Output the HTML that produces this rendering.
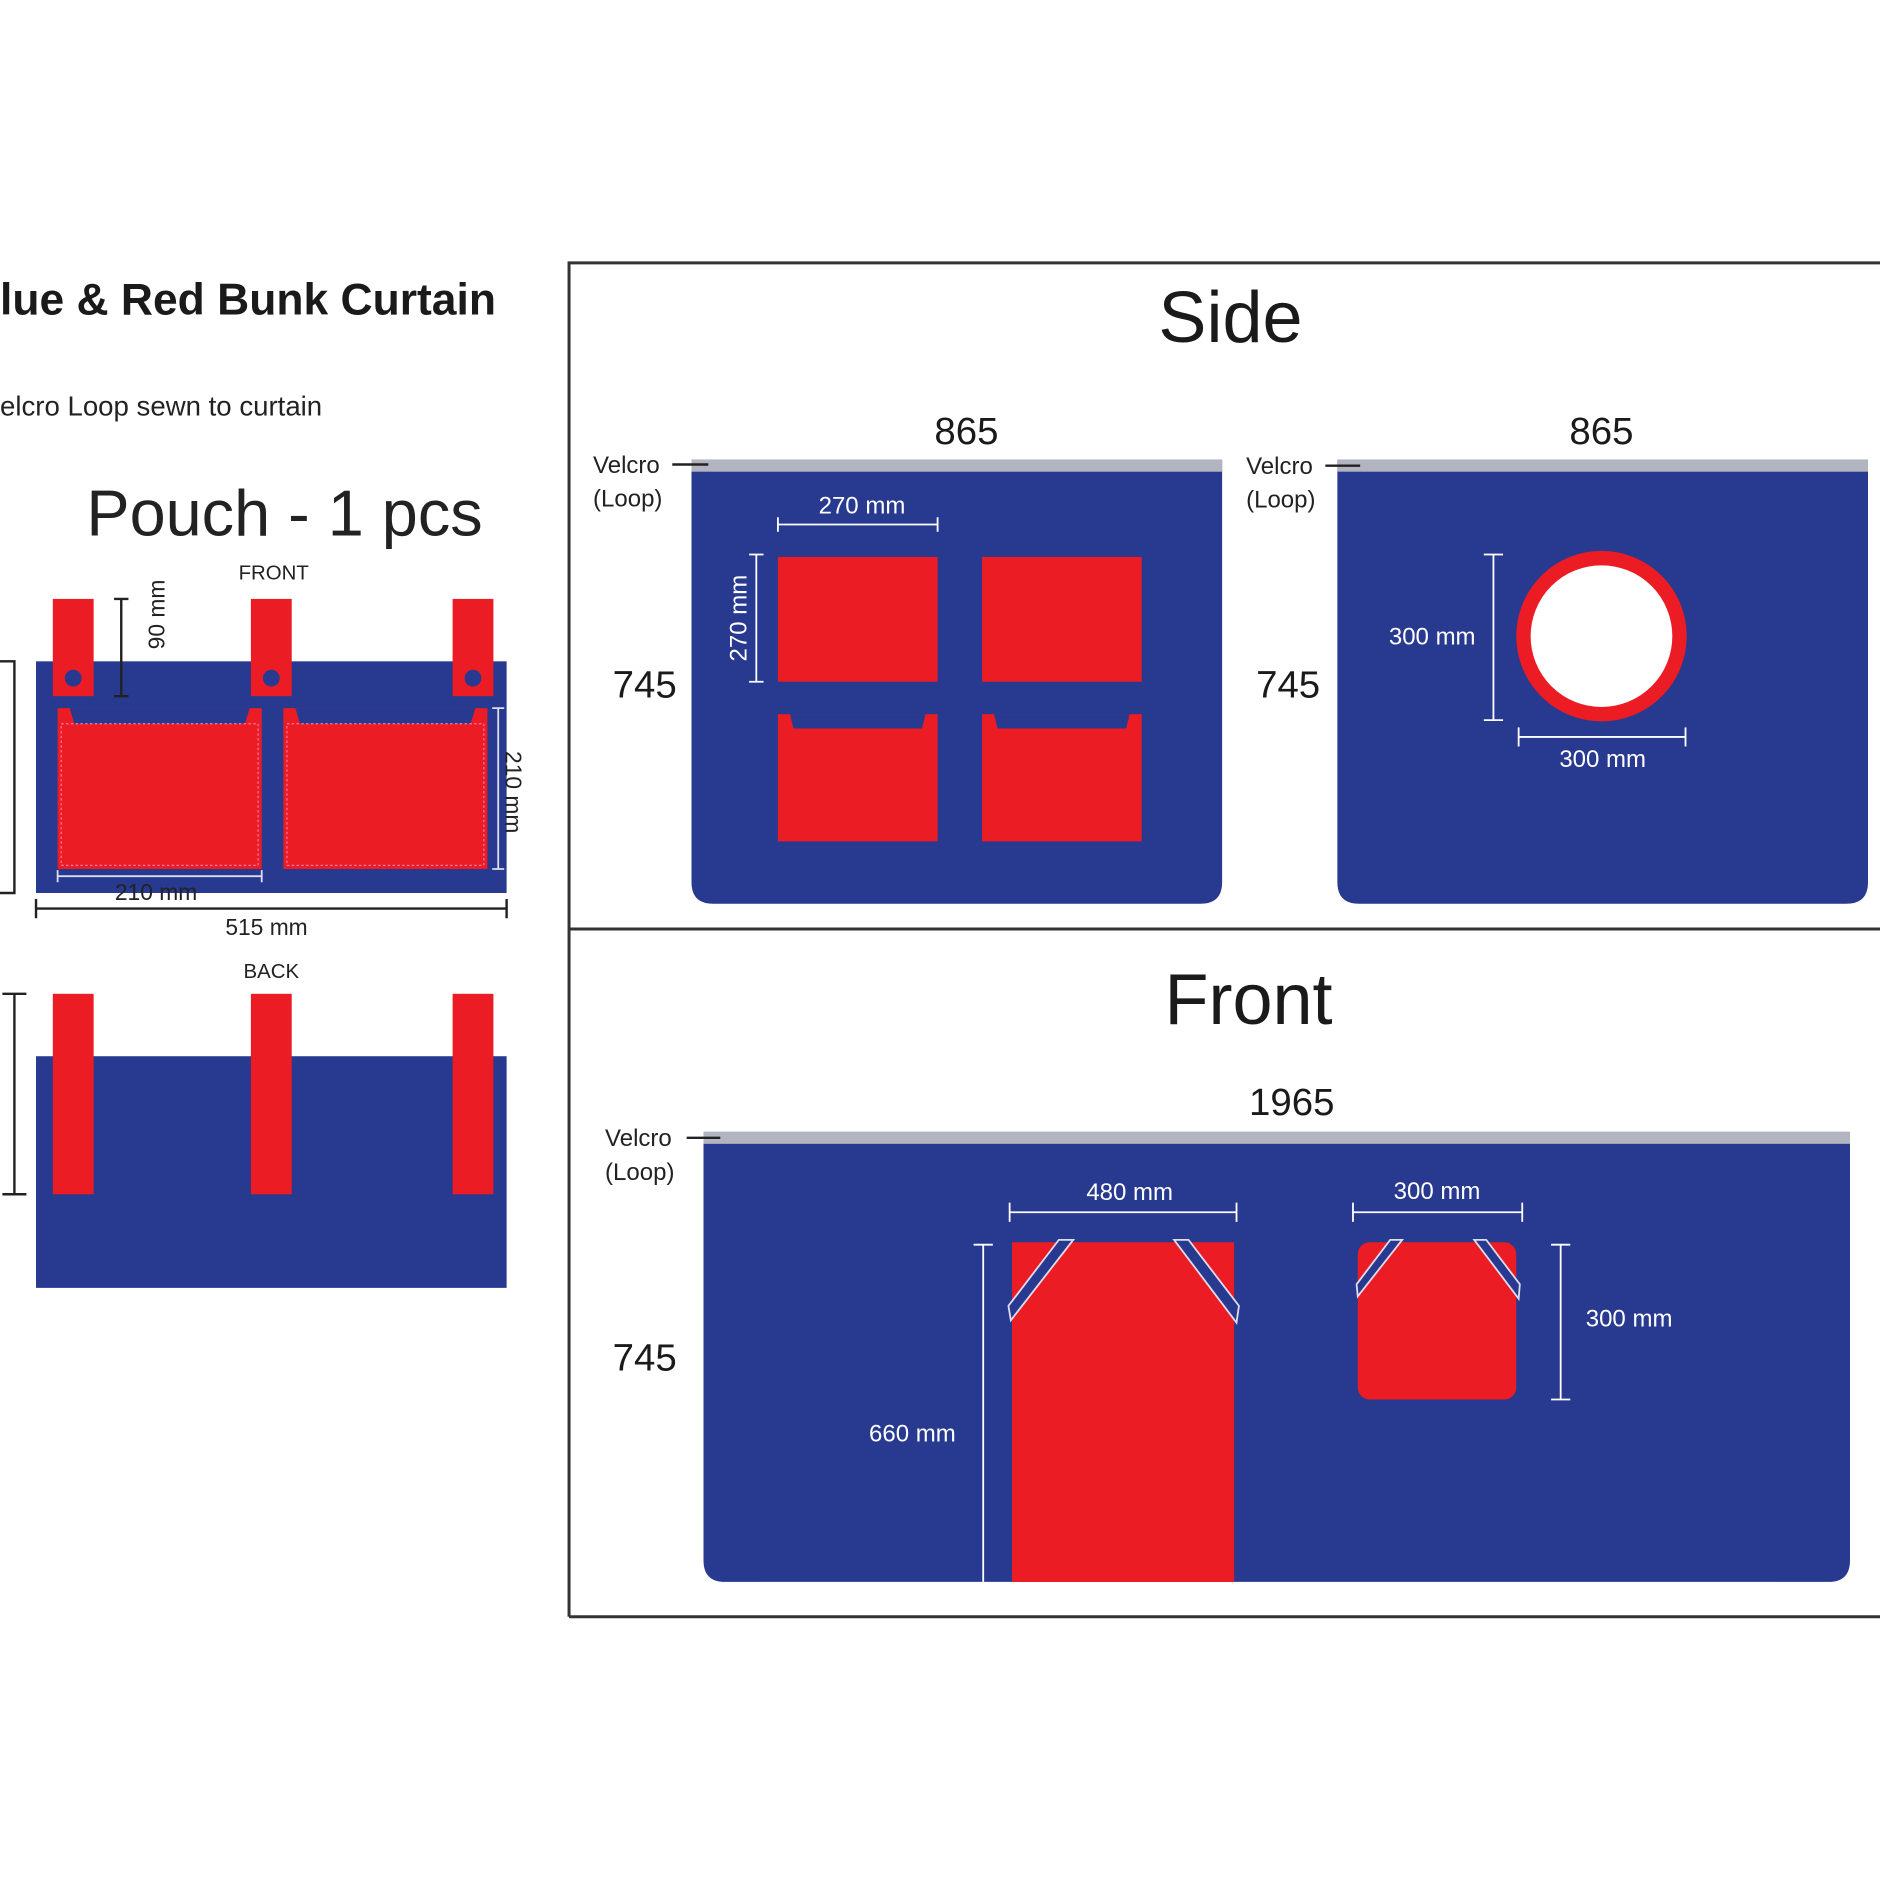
<!DOCTYPE html>
<html><head><meta charset="utf-8"><style>html,body{margin:0;padding:0;background:#fff}svg{display:block}text{font-family:"Liberation Sans",sans-serif}</style></head><body>
<svg width="1880" height="1882" viewBox="0 0 1566 1568" preserveAspectRatio="none" xmlns="http://www.w3.org/2000/svg">
<rect width="1566" height="1568" fill="#fff"/>
<text x="0" y="262" font-size="37" font-weight="bold" fill="#1a1a1a">lue &amp; Red Bunk Curtain</text>
<text x="0" y="346" font-size="23" fill="#222">elcro Loop sewn to curtain</text>
<text x="237" y="446" font-size="54" fill="#222" text-anchor="middle">Pouch - 1 pcs</text>
<text x="228" y="483" font-size="17" fill="#222" text-anchor="middle">FRONT</text>
<!-- pouch front -->
<rect x="30" y="551" width="392" height="193" fill="#283990"/>
<g fill="#ec1c24">
<rect x="44" y="499" width="34" height="81"/><rect x="209" y="499" width="34" height="81"/><rect x="377" y="499" width="34" height="81"/>
<rect x="48" y="590" width="170" height="134"/><rect x="236" y="590" width="170" height="134"/>
</g>
<g fill="#283990">
<circle cx="61" cy="565" r="7"/><circle cx="226" cy="565" r="7"/><circle cx="394" cy="565" r="7"/>
<polygon points="58,590 208,590 204,603 62,603"/><polygon points="246,590 396,590 392,603 250,603"/>
</g>
<g stroke="#f7a" stroke-width="1" stroke-dasharray="2,2" fill="none"><rect x="51" y="603" width="164" height="118"/><rect x="239" y="603" width="164" height="118"/></g>
<g stroke="#222" stroke-width="2" fill="none">
<path d="M101 499V580M95 499H107M95 580H107"/>
<path d="M30 757H422M30 749V765M422 749V765"/>
<path d="M0 551H12V744H0"/>
<path d="M12 828V995M2 828H22M2 995H22"/>
</g>
<g stroke="#dde" stroke-width="1.5" fill="none"><path d="M415 590V724M410 590H420M410 724H420"/><path d="M48 730H218M48 725V735M218 725V735"/></g>
<text transform="translate(137,512) rotate(-90)" font-size="19" fill="#222" text-anchor="middle">90 mm</text>
<text transform="translate(421,660) rotate(90)" font-size="19" fill="#222" text-anchor="middle">210 mm</text>
<text x="130" y="750" font-size="19" fill="#222" text-anchor="middle">210 mm</text>
<text x="222" y="779" font-size="19" fill="#222" text-anchor="middle">515 mm</text>
<text x="226" y="815" font-size="17" fill="#222" text-anchor="middle">BACK</text>
<rect x="30" y="880" width="392" height="193" fill="#283990"/>
<g fill="#ec1c24"><rect x="44" y="828" width="34" height="167"/><rect x="209" y="828" width="34" height="167"/><rect x="377" y="828" width="34" height="167"/></g>
<!-- frame -->
<g stroke="#333" stroke-width="2.5" fill="none"><path d="M474 1347V219H1566M474 774H1566M474 1347H1566"/></g>
<text x="1025" y="285" font-size="60" fill="#1a1a1a" text-anchor="middle">Side</text>
<text x="1040" y="853" font-size="60" fill="#1a1a1a" text-anchor="middle">Front</text>
<!-- side left -->
<path d="M576 383H1018V735Q1018 753 1000 753H594Q576 753 576 735Z" fill="#283990"/>
<rect x="576" y="383" width="442" height="10" fill="#b2b4bf"/>
<path d="M1114 383H1556V735Q1556 753 1538 753H1132Q1114 753 1114 735Z" fill="#283990"/>
<rect x="1114" y="383" width="442" height="10" fill="#b2b4bf"/>
<path d="M586 943H1541V1300Q1541 1318 1523 1318H604Q586 1318 586 1300Z" fill="#283990"/>
<rect x="586" y="943" width="955" height="10" fill="#b2b4bf"/>
<g font-size="32" fill="#1a1a1a" text-anchor="middle">
<text x="805" y="370">865</text><text x="1334" y="370">865</text><text x="1076" y="929">1965</text>
<text x="537" y="581">745</text><text x="1073" y="581">745</text><text x="537" y="1142">745</text>
</g>
<g font-size="20" fill="#222">
<text x="494" y="394">Velcro</text><text x="494" y="422">(Loop)</text>
<text x="1038" y="395">Velcro</text><text x="1038" y="423">(Loop)</text>
<text x="504" y="955">Velcro</text><text x="504" y="983">(Loop)</text>
</g>
<g stroke="#222" stroke-width="2"><path d="M560 387H590M1104 388H1133M572 948H600"/></g>
<!-- side red pockets -->
<g fill="#ec1c24">
<rect x="648" y="464" width="133" height="104"/><rect x="818" y="464" width="133" height="104"/>
<rect x="648" y="595" width="133" height="106"/><rect x="818" y="595" width="133" height="106"/>
</g>
<g fill="#283990"><polygon points="658,595 771,595 768,607 661,607"/><polygon points="828,595 941,595 938,607 831,607"/></g>
<g stroke="#fff" stroke-width="1.5" fill="none">
<path d="M648 437H781M648 431V443M781 431V443"/>
<path d="M630 462V568M624 462H636M624 568H636"/>
<path d="M1244 462V600M1236 462H1252M1236 600H1252"/>
<path d="M1265 614H1404M1265 606V622M1404 606V622"/>
<path d="M841 1010H1030M841 1002V1018M1030 1002V1018"/>
<path d="M1127 1010H1268M1127 1002V1018M1268 1002V1018"/>
<path d="M819 1037V1318M811 1037H827"/>
<path d="M1300 1037V1166M1292 1037H1308M1292 1166H1308"/>
</g>
<text transform="translate(622,515) rotate(-90)" font-size="20" fill="#fff" text-anchor="middle">270 mm</text>
<g font-size="20" fill="#fff" text-anchor="middle">
<text x="718" y="428">270 mm</text><text x="1193" y="537">300 mm</text><text x="1335" y="639">300 mm</text>
<text x="941" y="1000">480 mm</text><text x="1197" y="999">300 mm</text><text x="1357" y="1105">300 mm</text><text x="760" y="1201">660 mm</text>
</g>
<circle cx="1334" cy="530" r="65" fill="#fff" stroke="#ec1c24" stroke-width="12"/>
<!-- door & window -->
<rect x="843" y="1035" width="185" height="283" fill="#ec1c24"/>
<rect x="1131" y="1035" width="132" height="131" rx="10" fill="#ec1c24"/>
<g fill="#283990" stroke="#dde" stroke-width="1.5">
<polygon points="882,1033 894,1033 842,1100 840,1088"/>
<polygon points="978,1033 990,1033 1032,1088 1030,1102"/>
<polygon points="1158,1033 1168,1033 1131,1080 1130,1070"/>
<polygon points="1228,1033 1238,1033 1266,1070 1265,1082"/>
</g>
</svg>
</body></html>
